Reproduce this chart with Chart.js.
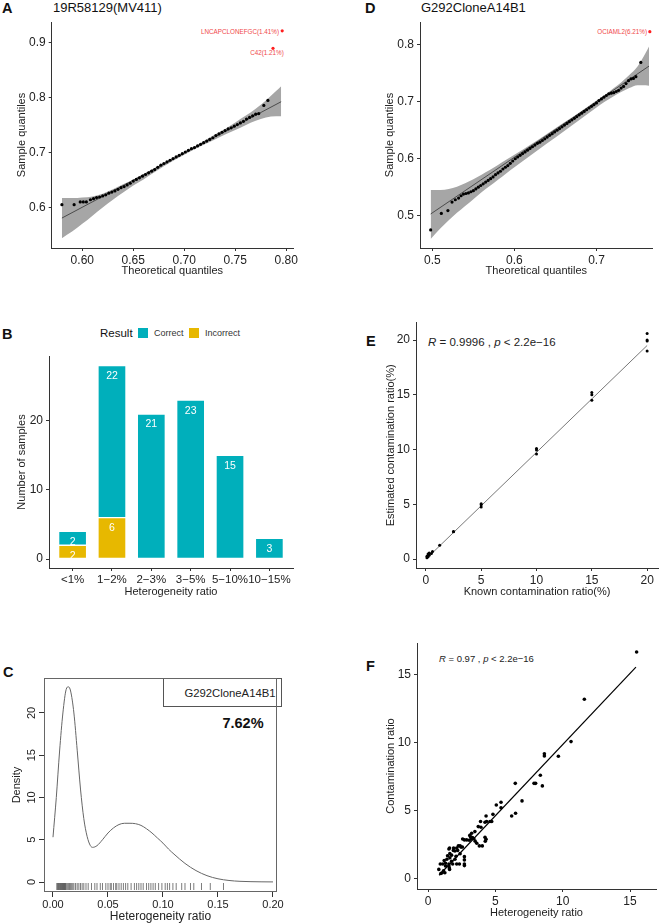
<!DOCTYPE html>
<html>
<head>
<meta charset="utf-8">
<script src="https://cdn.jsdelivr.net/npm/chart.js@4.4.1/dist/chart.umd.min.js"></script>
<style>
html, body { margin: 0; padding: 0; background: #fff; }
body { width: 662px; height: 924px; position: relative; overflow: hidden; font-family: "Liberation Sans", Arial, sans-serif; }
canvas { position: absolute; }
.t { position: absolute; line-height: 0; white-space: nowrap; color: #111; }
.letter { font-weight: bold; font-size: 14.5px; }
.red { color: #f0484a; font-size: 6.3px; }
.sq { position: absolute; width: 10px; height: 10px; }
</style>
</head>
<body>
<div class="t letter" style="left:2px;top:8px">A</div>
<div class="t" style="left:53px;top:8px;font-size:13px">19R58129(MV411)</div>
<div class="t red" style="left:279px;top:32px;transform:translateX(-100%)">LNCAPCLONEFGC(1.41%)</div>
<div class="t red" style="left:267px;top:53px;transform:translateX(-50%)">C42(1.21%)</div>

<div class="t letter" style="left:365px;top:8px">D</div>
<div class="t" style="left:421px;top:8px;font-size:13px">G292CloneA14B1</div>
<div class="t red" style="left:647px;top:32px;transform:translateX(-100%)">OCIAML2(6.21%)</div>

<div class="t letter" style="left:2px;top:334px">B</div>
<div class="t" style="left:100px;top:333px;font-size:11.5px">Result</div>
<div class="sq" style="left:138px;top:328px;background:#00AFBB"></div>
<div class="t" style="left:154px;top:333px;font-size:9px;color:#333">Correct</div>
<div class="sq" style="left:189px;top:328px;background:#E7B800"></div>
<div class="t" style="left:205px;top:333px;font-size:9px;color:#333">Incorrect</div>

<div class="t letter" style="left:366px;top:341px">E</div>
<div class="t" style="left:428px;top:342px;font-size:11.5px;color:#222"><i>R</i> = 0.9996 , <i>p</i> &lt; 2.2e−16</div>

<div class="t letter" style="left:3px;top:672px">C</div>
<div style="position:absolute;left:163px;top:678px;width:117px;height:27px;border:1px solid #555;"></div>
<div class="t" style="left:230px;top:693px;font-size:11.3px;color:#222;transform:translateX(-50%)">G292CloneA14B1</div>
<div class="t" style="left:243px;top:723px;font-size:14.5px;font-weight:bold;transform:translateX(-50%)">7.62%</div>

<div class="t letter" style="left:366px;top:666px">F</div>
<div class="t" style="left:439px;top:659px;font-size:9.5px;color:#222"><i>R</i> = 0.97 , <i>p</i> &lt; 2.2e−16</div>

<script>
// ---- A: QQ plot 19R58129(MV411)
const qqAX = [0.580,0.592,0.598,0.601,0.604,0.608,0.611,0.614,0.617,0.620,0.623,0.626,0.629,0.632,0.635,0.638,0.641,0.644,0.647,0.650,0.653,0.656,0.659,0.662,0.665,0.668,0.671,0.674,0.677,0.680,0.683,0.686,0.689,0.692,0.695,0.698,0.701,0.704,0.707,0.710,0.713,0.716,0.719,0.722,0.725,0.728,0.731,0.734,0.737,0.740,0.743,0.746,0.749,0.752,0.755,0.758,0.761,0.764,0.767,0.770,0.773,0.778,0.782];
const qqAY = [0.605,0.605,0.610,0.610,0.610,0.614,0.616,0.618,0.619,0.621,0.623,0.626,0.628,0.630,0.633,0.636,0.638,0.641,0.644,0.648,0.651,0.654,0.657,0.660,0.663,0.666,0.669,0.673,0.677,0.680,0.683,0.686,0.689,0.692,0.695,0.698,0.701,0.704,0.707,0.709,0.712,0.715,0.718,0.721,0.724,0.727,0.731,0.734,0.737,0.740,0.743,0.745,0.748,0.751,0.754,0.757,0.761,0.764,0.767,0.770,0.771,0.786,0.795];
const outAX = [0.796, 0.787];
const outAY = [0.922, 0.890];
const lineAX = [0.580, 0.795];
const lineAY = [0.5806, 0.7927];
const bandAX = [0.580,0.590,0.600,0.610,0.620,0.630,0.640,0.650,0.660,0.670,0.680,0.690,0.700,0.710,0.720,0.730,0.740,0.750,0.760,0.770,0.780,0.790,0.795];
const bandAHi = [0.617,0.617,0.618,0.620,0.625,0.633,0.642,0.651,0.661,0.671,0.681,0.691,0.701,0.711,0.722,0.733,0.743,0.755,0.767,0.780,0.795,0.812,0.821];
const bandALo = [0.544,0.556,0.570,0.585,0.600,0.614,0.627,0.640,0.651,0.663,0.675,0.686,0.696,0.706,0.715,0.724,0.733,0.741,0.750,0.758,0.764,0.766,0.766];
const ticksAX = [0.60, 0.65, 0.70, 0.75, 0.80];
const ticksAY = [0.6, 0.7, 0.8, 0.9];

// ---- D: QQ plot G292CloneA14B1
const qqDX = [0.498,0.511,0.519,0.524,0.528,0.532,0.535,0.538,0.541,0.544,0.547,0.550,0.553,0.556,0.559,0.562,0.565,0.568,0.571,0.574,0.577,0.580,0.583,0.586,0.589,0.592,0.595,0.598,0.601,0.604,0.607,0.610,0.613,0.616,0.619,0.622,0.625,0.628,0.631,0.634,0.637,0.640,0.643,0.646,0.649,0.652,0.655,0.658,0.661,0.664,0.667,0.670,0.673,0.676,0.679,0.682,0.685,0.688,0.691,0.694,0.697,0.700,0.703,0.706,0.709,0.712,0.715,0.718,0.721,0.724,0.727,0.730,0.733,0.736,0.739,0.742,0.745,0.748,0.754];
const qqDY = [0.475,0.504,0.509,0.524,0.528,0.531,0.535,0.538,0.539,0.540,0.542,0.544,0.547,0.550,0.553,0.556,0.559,0.562,0.565,0.568,0.572,0.575,0.578,0.582,0.585,0.588,0.592,0.596,0.600,0.603,0.606,0.609,0.612,0.615,0.618,0.621,0.624,0.627,0.629,0.632,0.635,0.638,0.641,0.644,0.647,0.650,0.653,0.656,0.659,0.662,0.665,0.668,0.671,0.674,0.677,0.680,0.683,0.686,0.689,0.692,0.695,0.698,0.702,0.705,0.708,0.711,0.714,0.715,0.716,0.718,0.720,0.724,0.727,0.732,0.737,0.740,0.741,0.744,0.769];
const outDX = [0.765];
const outDY = [0.823];
const lineDX = [0.498, 0.764];
const lineDY = [0.503, 0.7626];
const bandDX = [0.498,0.510,0.520,0.530,0.540,0.550,0.560,0.570,0.580,0.590,0.600,0.620,0.640,0.660,0.680,0.700,0.710,0.720,0.730,0.740,0.750,0.760,0.764];
const bandDHi = [0.545,0.545,0.547,0.551,0.557,0.564,0.572,0.580,0.589,0.598,0.607,0.625,0.644,0.663,0.682,0.702,0.712,0.723,0.734,0.747,0.762,0.786,0.797];
const bandDLo = [0.459,0.478,0.492,0.505,0.517,0.529,0.541,0.552,0.563,0.574,0.585,0.606,0.627,0.648,0.669,0.690,0.700,0.709,0.717,0.724,0.729,0.729,0.728];
const ticksDX = [0.5, 0.6, 0.7];
const ticksDY = [0.5, 0.6, 0.7, 0.8];

// ---- B: samples by heterogeneity ratio
const ratioGroups = ["<1%", "1−2%", "2−3%", "3−5%", "5−10%", "10−15%"];
const correctCounts = [2, 22, 21, 23, 15, 3];
const incorrectCounts = [2, 6, 0, 0, 0, 0];
const ticksBY = [0, 10, 20];

// ---- E: known vs estimated contamination
const knownRatio = [0.1,0.1,0.2,0.2,0.3,0.3,0.5,0.6,1.25,2.5,2.5,5,5,5,10,10,10,15,15,15,20,20,20,20];
const estimatedRatio = [0.12,0.25,0.2,0.45,0.35,0.55,0.5,0.68,1.25,2.48,2.52,4.75,4.95,5.05,9.6,9.95,10.1,14.5,15.0,15.2,19.0,19.9,20.0,20.6];
const fitEX = [0.1, 20];
const fitEY = [0.08, 19.5];
const ticksE = [0, 5, 10, 15, 20];

// ---- C: density of heterogeneity ratio
const densX = [0,0.003,0.006,0.009,0.012,0.014,0.016,0.019,0.022,0.025,0.028,0.031,0.034,0.036,0.040,0.045,0.050,0.055,0.060,0.065,0.070,0.075,0.080,0.085,0.090,0.095,0.100,0.105,0.110,0.120,0.130,0.140,0.150,0.160,0.170,0.180,0.190,0.200];
const densY = [5.3,10.0,15.5,20.0,22.8,23.1,22.6,20.0,15.6,11.0,7.5,5.4,4.3,4.1,4.3,5.0,5.8,6.4,6.8,6.95,6.95,6.9,6.7,6.3,5.8,5.2,4.6,3.9,3.3,2.2,1.35,0.75,0.38,0.18,0.08,0.04,0.02,0.01];
const rugValues = [0.0035,0.004,0.0048,0.0052,0.006,0.0065,0.007,0.0075,0.008,0.0085,0.009,0.0095,0.010,0.0105,0.011,0.0115,0.012,0.013,0.014,0.015,0.016,0.017,0.018,0.019,0.0205,0.022,0.0235,0.025,0.0265,0.028,0.030,0.032,0.035,0.038,0.040,0.043,0.045,0.048,0.050,0.052,0.053,0.055,0.057,0.058,0.060,0.062,0.064,0.066,0.068,0.071,0.074,0.076,0.078,0.080,0.082,0.085,0.087,0.089,0.091,0.093,0.096,0.099,0.102,0.104,0.106,0.109,0.112,0.117,0.120,0.125,0.128,0.135,0.143,0.155];
const ticksCX = [0, 0.05, 0.10, 0.15, 0.20];
const ticksCY = [0, 5, 10, 15, 20];

// ---- F: heterogeneity vs contamination
const hetRatio = [15.49,11.61,10.62,9.68,8.64,8.64,8.34,8.49,7.87,7.99,6.48,6.50,6.21,6.98,5.42,5.42,5.07,4.82,4.60,4.73,4.31,4.23,4.35,3.90,3.93,3.73,3.48,3.24,3.10,3.30,4.23,4.31,4.25,4.03,3.81,3.62,3.50,3.20,3.05,2.87,2.57,2.70,2.38,2.45,2.25,2.13,1.88,1.60,1.55,1.90,1.62,1.75,1.45,1.62,1.40,1.20,1.30,1.10,1.30,1.55,1.60,1.58,1.55,2.70,2.70,2.70,2.70,2.33,2.13,1.83,2.38,2.08,0.80,1.05,1.25,0.95,0.91,1.15,2.00,2.20,2.55,3.40,3.15,1.75,2.00];
const contamRatio = [16.69,13.21,10.10,9.02,9.21,9.04,7.62,6.84,7.03,7.03,7.03,4.83,4.63,5.74,5.64,5.24,5.44,4.75,4.22,4.22,4.63,4.17,4.22,4.22,3.80,3.85,3.48,3.36,3.20,3.05,3.06,2.92,2.77,2.43,2.43,2.62,2.78,2.95,2.85,2.87,2.94,2.87,2.43,2.34,2.43,2.27,2.10,2.27,2.20,2.27,1.86,1.75,1.70,1.55,1.45,1.35,1.15,1.10,0.95,0.95,0.70,0.80,1.10,1.64,1.40,1.10,0.98,1.10,1.10,1.10,1.86,1.67,0.70,0.45,0.45,0.40,1.10,0.60,2.05,2.10,2.35,2.95,3.10,1.30,1.45];
const fitFX = [0.82, 15.44];
const fitFY = [0.27, 15.57];
const ticksFX = [0, 5, 10, 15];
const ticksFY = [0, 5, 10, 15];

const FONT = "'Liberation Sans', Arial, sans-serif";
const AXIS = "#333";
const TEXT = "#222";
Chart.defaults.font.family = FONT;
Chart.defaults.color = TEXT;
Chart.defaults.animation = false;
Chart.defaults.plugins.legend.display = false;
Chart.defaults.plugins.tooltip.enabled = false;

const zip = (xs, ys) => xs.map((x, i) => ({ x, y: ys[i] }));

function makeCanvas(box) {
  const c = document.createElement("canvas");
  c.width = box.w;
  c.height = box.h;
  c.style.left = box.l + "px";
  c.style.top = box.t + "px";
  document.body.appendChild(c);
  return c;
}

function layoutFor(box, area) {
  return { padding: { left: 0, top: area.t - box.t, right: box.l + box.w - area.r, bottom: 0 } };
}

function xAxis(box, area, o) {
  return {
    type: "linear",
    min: o.min,
    max: o.max,
    offset: false,
    stacked: o.stacked,
    afterBuildTicks: (s) => { s.ticks = o.ticks.map((v) => ({ value: v })); },
    afterFit: (s) => { s.height = box.t + box.h - area.b; },
    border: { display: o.border !== false, color: AXIS, width: 1 },
    grid: { offset: false, drawOnChartArea: false, drawTicks: true, tickLength: o.tickLength || 3, color: AXIS },
    ticks: { font: { size: o.tickSize || 12 }, color: TEXT, padding: o.tickPad || 2, maxRotation: 0, autoSkip: false, callback: o.fmt },
    title: {
      display: true, text: o.title, color: TEXT, font: { size: o.titleSize || 11 },
      padding: { top: 0, bottom: Math.max(0, box.t + box.h - o.titleY - (o.titleSize || 11) * 0.6) },
    },
  };
}

function yAxis(box, area, o) {
  return {
    type: "linear",
    min: o.min,
    max: o.max,
    stacked: o.stacked,
    afterBuildTicks: (s) => { s.ticks = o.ticks.map((v) => ({ value: v })); },
    afterFit: (s) => { s.width = area.l - box.l; },
    border: { display: o.border !== false, color: AXIS, width: 1 },
    grid: { drawOnChartArea: false, drawTicks: true, tickLength: o.tickLength || 3, color: AXIS },
    ticks: { font: { size: 12 }, color: o.hideTicks ? "rgba(0,0,0,0)" : TEXT, padding: 3, callback: o.fmt },
    title: {
      display: true, text: o.title, color: TEXT, font: { size: 11 },
      padding: { top: Math.max(0, o.titleX - box.l - 6.6), bottom: 0 },
    },
  };
}

function qqChart(box, area, d) {
  new Chart(makeCanvas(box), {
    type: "scatter",
    data: {
      datasets: [
        { data: zip(d.px, d.py), pointRadius: 1.6, pointBackgroundColor: "#000", pointBorderWidth: 0 },
        { data: zip(d.ox, d.oy), pointRadius: 1.6, pointBackgroundColor: "#ff1f1f", pointBorderWidth: 0 },
        { data: zip(d.lx, d.ly), showLine: true, pointRadius: 0, borderColor: "#333", borderWidth: 0.8 },
        { data: zip(d.bx, d.lo), showLine: true, pointRadius: 0, borderWidth: 0, cubicInterpolationMode: "monotone" },
        { data: zip(d.bx, d.hi), showLine: true, pointRadius: 0, borderWidth: 0, cubicInterpolationMode: "monotone", fill: "-1", backgroundColor: "#a6a6a6" },
      ],
    },
    options: {
      responsive: false,
      layout: layoutFor(box, area),
      scales: {
        x: xAxis(box, area, { min: d.xmin, max: d.xmax, ticks: d.tx, fmt: d.xfmt, title: "Theoretical quantiles", titleY: 271 }),
        y: yAxis(box, area, { min: d.ymin, max: d.ymax, ticks: d.ty, fmt: (v) => v.toFixed(1), title: "Sample quantiles", titleX: d.titleX }),
      },
    },
  });
}

// A
qqChart({ l: 0, t: 0, w: 331, h: 282 }, { l: 51.7, t: 22, r: 293, b: 248 }, {
  px: qqAX, py: qqAY, ox: outAX, oy: outAY, lx: lineAX, ly: lineAY, bx: bandAX, lo: bandALo, hi: bandAHi,
  xmin: 0.57, xmax: 0.8066, ymin: 0.526, ymax: 0.938, tx: ticksAX, ty: ticksAY,
  xfmt: (v) => v.toFixed(2), titleX: 22,
});

// D
qqChart({ l: 335, t: 0, w: 327, h: 282 }, { l: 420, t: 22, r: 652.7, b: 248 }, {
  px: qqDX, py: qqDY, ox: outDX, oy: outDY, lx: lineDX, ly: lineDY, bx: bandDX, lo: bandDLo, hi: bandDHi,
  xmin: 0.485, xmax: 0.7685, ymin: 0.4433, ymax: 0.84, tx: ticksDX, ty: ticksDY,
  xfmt: (v) => v.toFixed(1), titleX: 390,
});

// B
const barValueLabels = {
  id: "barValueLabels",
  afterDatasetsDraw(chart) {
    const ctx = chart.ctx;
    ctx.save();
    ctx.fillStyle = "#fff";
    ctx.font = "10.5px " + FONT;
    ctx.textAlign = "center";
    ctx.textBaseline = "middle";
    chart.data.datasets.forEach((ds, i) => {
      chart.getDatasetMeta(i).data.forEach((bar, j) => {
        const v = ds.data[j].y;
        if (v) ctx.fillText(String(v), bar.x, bar.y + 10.5);
      });
    });
    ctx.restore();
  },
};

(function () {
  const box = { l: 0, t: 340, w: 331, h: 262 };
  const area = { l: 49, t: 356, r: 293, b: 568 };
  const toBars = (vals) => vals.map((v, i) => ({ x: i + 1, y: v || null }));
  new Chart(makeCanvas(box), {
    type: "bar",
    data: {
      datasets: [
        { label: "Incorrect", data: toBars(incorrectCounts), backgroundColor: "#E7B800", borderColor: "rgba(255,255,255,0.75)", borderWidth: 1, borderSkipped: false, barThickness: 28 },
        { label: "Correct", data: toBars(correctCounts), backgroundColor: "#00AFBB", borderColor: "rgba(255,255,255,0.75)", borderWidth: 1, borderSkipped: false, barThickness: 28 },
      ],
    },
    options: {
      responsive: false,
      layout: layoutFor(box, area),
      scales: {
        x: xAxis(box, area, { min: 0.4, max: 6.6, stacked: true, ticks: [1, 2, 3, 4, 5, 6], fmt: (v) => ratioGroups[v - 1], title: "Heterogeneity ratio", titleY: 592, tickSize: 11.5 }),
        y: yAxis(box, area, { min: -1.3, max: 29.4, stacked: true, ticks: ticksBY, fmt: (v) => String(v), title: "Number of samples", titleX: 21.7 }),
      },
    },
    plugins: [barValueLabels],
  });
})();

// E
(function () {
  const box = { l: 335, t: 300, w: 327, h: 302 };
  const area = { l: 416, t: 322.7, r: 661, b: 568 };
  new Chart(makeCanvas(box), {
    type: "scatter",
    data: {
      datasets: [
        { data: zip(knownRatio, estimatedRatio), pointRadius: 1.5, pointBackgroundColor: "#000", pointBorderWidth: 0 },
        { data: zip(fitEX, fitEY), showLine: true, pointRadius: 0, borderColor: "#777", borderWidth: 1 },
      ],
    },
    options: {
      responsive: false,
      layout: layoutFor(box, area),
      scales: {
        x: xAxis(box, area, { min: -0.89, max: 20.98, ticks: ticksE, fmt: (v) => String(v), title: "Known contamination ratio(%)", titleY: 591.7 }),
        y: yAxis(box, area, { min: -0.82, max: 21.58, ticks: ticksE, fmt: (v) => String(v), title: "Estimated contamination ratio(%)", titleX: 391 }),
      },
    },
  });
})();

// C
const baseFrame = {
  id: "baseFrame",
  afterDatasetsDraw(chart) {
    const { ctx, chartArea: a, scales: { x, y } } = chart;
    ctx.save();
    ctx.strokeStyle = "#444";
    ctx.lineWidth = 0.7;
    ctx.beginPath();
    rugValues.forEach((v) => {
      const px = x.getPixelForValue(v);
      ctx.moveTo(px, a.bottom - 2);
      ctx.lineTo(px, a.bottom - 9);
    });
    ctx.stroke();
    ctx.strokeStyle = "#666";
    ctx.lineWidth = 1;
    ctx.strokeRect(a.left + 0.5, a.top + 0.5, a.right - a.left - 1, a.bottom - a.top - 1);
    ctx.fillStyle = TEXT;
    ctx.font = "11px " + FONT;
    ctx.textAlign = "center";
    ctx.textBaseline = "middle";
    ticksCY.forEach((v) => {
      ctx.save();
      ctx.translate(a.left - 12.3, y.getPixelForValue(v));
      ctx.rotate(-Math.PI / 2);
      ctx.fillText(String(v), 0, 0);
      ctx.restore();
    });
    ctx.restore();
  },
};

(function () {
  const box = { l: 0, t: 660, w: 331, h: 264 };
  const area = { l: 44, t: 678, r: 277, b: 892 };
  new Chart(makeCanvas(box), {
    type: "scatter",
    data: {
      datasets: [
        { data: zip(densX, densY), showLine: true, pointRadius: 0, borderColor: "#666", borderWidth: 1, cubicInterpolationMode: "monotone" },
      ],
    },
    options: {
      responsive: false,
      layout: layoutFor(box, area),
      scales: {
        x: xAxis(box, area, { min: -0.00818, max: 0.20364, ticks: ticksCX, fmt: (v) => v.toFixed(2), title: "Heterogeneity ratio", titleY: 917, titleSize: 12, border: false, tickLength: 5, tickSize: 11, tickPad: 1 }),
        y: yAxis(box, area, { min: -1.183, max: 24.14, ticks: ticksCY, fmt: (v) => String(v), title: "Density", titleX: 16.7, border: false, tickLength: 5, hideTicks: true }),
      },
    },
    plugins: [baseFrame],
  });
})();

// F
(function () {
  const box = { l: 335, t: 620, w: 327, h: 304 };
  const area = { l: 417, t: 643, r: 656, b: 889 };
  new Chart(makeCanvas(box), {
    type: "scatter",
    data: {
      datasets: [
        { data: zip(hetRatio, contamRatio), pointRadius: 1.8, pointBackgroundColor: "#000", pointBorderWidth: 0 },
        { data: zip(fitFX, fitFY), showLine: true, pointRadius: 0, borderColor: "#000", borderWidth: 1.2 },
      ],
    },
    options: {
      responsive: false,
      layout: layoutFor(box, area),
      scales: {
        x: xAxis(box, area, { min: -0.82, max: 16.93, ticks: ticksFX, fmt: (v) => String(v), title: "Heterogeneity ratio", titleY: 913 }),
        y: yAxis(box, area, { min: -0.74, max: 17.35, ticks: ticksFY, fmt: (v) => String(v), title: "Contamination ratio", titleX: 391 }),
      },
    },
  });
})();
</script>
</body>
</html>
